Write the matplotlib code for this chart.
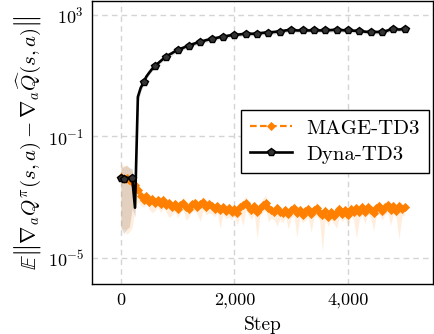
import numpy as np
import matplotlib
matplotlib.use("Agg")
import matplotlib.pyplot as plt
from matplotlib.ticker import FixedLocator, FuncFormatter, LogFormatterMathtext

plt.rcParams["font.family"] = "serif"
plt.rcParams["font.serif"] = ["cmr10"]
plt.rcParams["mathtext.fontset"] = "cm"
plt.rcParams["axes.formatter.use_mathtext"] = True

# Pasos de entrenamiento (cada 50)
steps = np.arange(0, 5001, 50)

# log10 del error de gradiente
mage_log = [
    -2.35, -2.42, -2.38, -2.45, -2.50, -2.60,
    -2.78, -2.98, -3.08, -2.98, -3.16, -3.06, -3.20, -3.08, -3.22, -3.10,
    -3.26, -3.18, -3.34, -3.22, -3.38, -3.26, -3.18, -3.32, -3.40, -3.24,
    -3.20, -3.34, -3.24, -3.16, -3.34, -3.22, -3.30, -3.40, -3.28, -3.44,
    -3.32, -3.46, -3.36, -3.50, -3.38, -3.52, -3.34, -3.26, -3.18, -3.34,
    -3.44, -3.30, -3.48, -3.36, -3.26, -3.18, -3.36, -3.44, -3.50, -3.36,
    -3.48, -3.54, -3.42, -3.56, -3.44, -3.36, -3.54, -3.42, -3.60, -3.46,
    -3.40, -3.56, -3.44, -3.36, -3.52, -3.60, -3.46, -3.66, -3.50, -3.62,
    -3.48, -3.40, -3.56, -3.44, -3.58, -3.38, -3.50, -3.36, -3.50, -3.34,
    -3.48, -3.32, -3.44, -3.52, -3.36, -3.30, -3.46, -3.34, -3.26, -3.44,
    -3.30, -3.46, -3.28, -3.38, -3.34,
]
mage_up = [
    0.45, 0.45, 0.45, 0.40, 0.35, 0.25, 0.15, 0.15, 0.15, 0.15,
    0.15, 0.18, 0.15, 0.15, 0.15, 0.20, 0.15, 0.15, 0.15, 0.18,
    0.15, 0.15, 0.18, 0.15, 0.15, 0.15, 0.18, 0.15, 0.15, 0.20,
    0.15, 0.18, 0.15, 0.15, 0.15, 0.15, 0.15, 0.15, 0.18, 0.15,
    0.15, 0.15, 0.18, 0.15, 0.22, 0.15, 0.15, 0.18, 0.15, 0.15,
    0.20, 0.25, 0.15, 0.15, 0.15, 0.18, 0.15, 0.15, 0.18, 0.15,
    0.15, 0.20, 0.15, 0.18, 0.15, 0.15, 0.20, 0.15, 0.15, 0.22,
    0.15, 0.15, 0.18, 0.15, 0.15, 0.15, 0.18, 0.20, 0.15, 0.18,
    0.15, 0.20, 0.15, 0.18, 0.15, 0.20, 0.15, 0.18, 0.15, 0.15,
    0.18, 0.20, 0.15, 0.18, 0.20, 0.15, 0.18, 0.15, 0.20, 0.15,
    0.15,
]
mage_down = [
    1.75, 1.60, 1.85, 1.70, 1.50, 0.80, 0.35, 0.30, 0.25, 0.25,
    0.25, 0.45, 0.25, 0.25, 0.30, 0.25, 0.25, 0.50, 0.25, 0.25,
    0.30, 0.25, 0.25, 0.45, 0.25, 0.25, 0.25, 0.25, 0.55, 0.25,
    0.25, 0.30, 0.25, 0.25, 0.25, 0.60, 0.25, 0.25, 0.30, 0.25,
    0.25, 0.40, 0.25, 0.70, 0.25, 0.25, 0.30, 0.25, 0.90, 0.25,
    0.25, 0.25, 0.45, 0.25, 0.25, 0.60, 0.25, 0.30, 0.25, 0.50,
    0.25, 0.25, 0.80, 0.25, 0.25, 0.30, 0.25, 0.60, 0.25, 0.25,
    0.25, 1.20, 0.25, 0.30, 0.25, 0.25, 0.55, 0.25, 0.25, 0.25,
    0.40, 0.25, 0.25, 1.00, 0.25, 0.25, 0.40, 0.25, 0.25, 0.60,
    0.25, 0.25, 0.30, 0.25, 0.25, 0.50, 0.25, 0.25, 1.10, 0.25,
    0.25,
]

dyna_log = [
    -2.38, -2.40, -2.36, -2.38, -2.37, -3.35, 0.30, 0.60, 0.78, 0.97,
    1.10, 1.22, 1.31, 1.40, 1.48, 1.56, 1.63, 1.69, 1.74, 1.80,
    1.85, 1.89, 1.92, 1.96, 1.99, 2.03, 2.06, 2.09, 2.12, 2.14,
    2.17, 2.19, 2.21, 2.23, 2.25, 2.27, 2.29, 2.30, 2.32, 2.33,
    2.34, 2.35, 2.36, 2.37, 2.38, 2.38, 2.38, 2.38, 2.38, 2.40,
    2.41, 2.42, 2.42, 2.43, 2.44, 2.45, 2.45, 2.47, 2.49, 2.50,
    2.51, 2.50, 2.49, 2.49, 2.49, 2.49, 2.49, 2.49, 2.49, 2.49,
    2.49, 2.49, 2.49, 2.50, 2.50, 2.51, 2.51, 2.50, 2.50, 2.49,
    2.49, 2.49, 2.48, 2.48, 2.48, 2.46, 2.45, 2.44, 2.43, 2.43,
    2.44, 2.44, 2.44, 2.46, 2.49, 2.52, 2.54, 2.53, 2.52, 2.53,
    2.54,
]
dyna_up = [0.35, 0.40, 0.40, 0.35, 0.30, 0.30, 0.20, 0.12, 0.10, 0.08] + [0.07] * 91
dyna_down = [1.60, 1.80, 1.70, 1.60, 1.00, 0.30, 0.20, 0.12, 0.10, 0.08] + [0.07] * 91

dyna_marks = [0, 1] + list(range(4, 101, 4))

orange = "#ff8000"

fig = plt.figure(figsize=(4.34, 3.34), dpi=100)
ax = fig.add_axes([0.213, 0.150, 0.785, 0.847])

m = np.array(mage_log)
d = np.array(dyna_log)
ax.fill_between(steps, 10 ** (d - np.array(dyna_down)), 10 ** (d + np.array(dyna_up)),
                color="#9a8f88", alpha=0.3, lw=0)
ax.fill_between(steps, 10 ** (m - np.array(mage_down)), 10 ** (m + np.array(mage_up)),
                color=orange, alpha=0.13, lw=0)

ax.plot(steps, 10 ** m, color=orange, ls=(0, (3, 1.5)), lw=1.6,
        marker="D", ms=4.2, mew=0.6, label="MAGE-TD3", zorder=3)
ax.plot(steps, 10 ** d, color="black", lw=1.9,
        marker="p", ms=5.5, markevery=dyna_marks, mfc="#333333", mec="black",
        label="Dyna-TD3", zorder=4)

ax.set_yscale("log")
ax.set_xlim(-500, 5500)
ax.set_ylim(10 ** -5.86, 10 ** 3.46)
ax.xaxis.set_major_locator(FixedLocator([0, 2000, 4000]))
ax.xaxis.set_major_formatter(FuncFormatter(lambda v, p: f"{int(v):,}"))
ax.yaxis.set_major_locator(FixedLocator([1e-5, 1e-1, 1e3]))
ax.yaxis.set_major_formatter(LogFormatterMathtext())
ax.yaxis.set_minor_locator(FixedLocator([]))
ax.tick_params(length=0, labelsize=13, pad=6)
ax.grid(True, ls=(0, (4, 3)), color="#d4d4d4", lw=1)
ax.set_axisbelow(True)
for s in ax.spines.values():
    s.set_linewidth(1.0)

ax.set_xlabel("Step", fontsize=14, labelpad=6)
ax.set_ylabel(r"$\mathbb{E}\left\|\nabla_a Q^{\pi}(s,a)-\nabla_a \widehat{Q}(s,a)\right\|$",
              fontsize=15, labelpad=3)

leg = ax.legend(loc="center", bbox_to_anchor=(0.712, 0.504), fontsize=15,
                fancybox=False, framealpha=1, edgecolor="black",
                handlelength=2.0, handletextpad=0.7, borderpad=0.45,
                labelspacing=0.35)
leg.get_frame().set_linewidth(1.0)

fig.savefig("out.png", dpi=100)
